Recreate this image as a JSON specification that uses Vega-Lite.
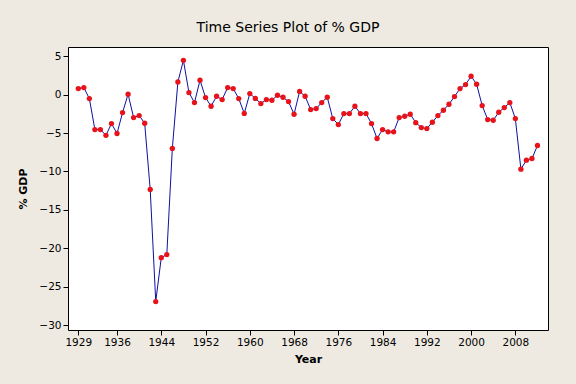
{
  "$schema": "https://vega.github.io/schema/vega-lite/v6.json",
  "width": 480,
  "height": 283,
  "autosize": {"type": "none"},
  "padding": {"left": 68, "top": 47, "right": 28, "bottom": 54},
  "background": "#EEEAE2",
  "title": {
    "text": "Time Series Plot of % GDP",
    "anchor": "middle",
    "font": "DejaVu Sans",
    "fontSize": 14,
    "fontWeight": "normal",
    "color": "#000000",
    "baseline": "alphabetic",
    "offset": 14,
    "dx": -20,
    "dy": 13
  },
  "config": {
    "view": {"stroke": "#000000", "strokeWidth": 1, "fill": "#FFFFFF"},
    "axis": {
      "labelFont": "DejaVu Sans",
      "labelFontSize": 10.5,
      "labelColor": "#000000",
      "titleFont": "DejaVu Sans",
      "titleFontSize": 11,
      "titleFontWeight": "bold",
      "titleColor": "#000000",
      "tickColor": "#000000",
      "tickSize": 5,
      "labelPadding": 2,
      "domainColor": "#000000",
      "grid": false
    }
  },
  "data": {
    "values": [
      {"year": 1929, "gdp": 0.78}, {"year": 1930, "gdp": 0.91}, {"year": 1931, "gdp": -0.52},
      {"year": 1932, "gdp": -4.55}, {"year": 1933, "gdp": -4.55}, {"year": 1934, "gdp": -5.3},
      {"year": 1935, "gdp": -3.77}, {"year": 1936, "gdp": -5.06}, {"year": 1937, "gdp": -2.34},
      {"year": 1938, "gdp": 0.04}, {"year": 1939, "gdp": -2.99}, {"year": 1940, "gdp": -2.73},
      {"year": 1941, "gdp": -3.73}, {"year": 1942, "gdp": -12.34}, {"year": 1943, "gdp": -26.9},
      {"year": 1944, "gdp": -21.2}, {"year": 1945, "gdp": -20.8}, {"year": 1946, "gdp": -7.0},
      {"year": 1947, "gdp": 1.64}, {"year": 1948, "gdp": 4.45}, {"year": 1949, "gdp": 0.26},
      {"year": 1950, "gdp": -1.04}, {"year": 1951, "gdp": 1.86}, {"year": 1952, "gdp": -0.39},
      {"year": 1953, "gdp": -1.52}, {"year": 1954, "gdp": -0.22}, {"year": 1955, "gdp": -0.65},
      {"year": 1956, "gdp": 0.91}, {"year": 1957, "gdp": 0.78}, {"year": 1958, "gdp": -0.52},
      {"year": 1959, "gdp": -2.45}, {"year": 1960, "gdp": 0.13}, {"year": 1961, "gdp": -0.5},
      {"year": 1962, "gdp": -1.17}, {"year": 1963, "gdp": -0.65}, {"year": 1964, "gdp": -0.74},
      {"year": 1965, "gdp": -0.09}, {"year": 1966, "gdp": -0.35}, {"year": 1967, "gdp": -0.91},
      {"year": 1968, "gdp": -2.56}, {"year": 1969, "gdp": 0.4}, {"year": 1970, "gdp": -0.22},
      {"year": 1971, "gdp": -1.95}, {"year": 1972, "gdp": -1.82}, {"year": 1973, "gdp": -1.04},
      {"year": 1974, "gdp": -0.35}, {"year": 1975, "gdp": -3.12}, {"year": 1976, "gdp": -3.9},
      {"year": 1977, "gdp": -2.47}, {"year": 1978, "gdp": -2.47}, {"year": 1979, "gdp": -1.52},
      {"year": 1980, "gdp": -2.47}, {"year": 1981, "gdp": -2.47}, {"year": 1982, "gdp": -3.77},
      {"year": 1983, "gdp": -5.71}, {"year": 1984, "gdp": -4.55}, {"year": 1985, "gdp": -4.85},
      {"year": 1986, "gdp": -4.85}, {"year": 1987, "gdp": -2.99}, {"year": 1988, "gdp": -2.82},
      {"year": 1989, "gdp": -2.56}, {"year": 1990, "gdp": -3.65}, {"year": 1991, "gdp": -4.29},
      {"year": 1992, "gdp": -4.42}, {"year": 1993, "gdp": -3.6}, {"year": 1994, "gdp": -2.73},
      {"year": 1995, "gdp": -2.04}, {"year": 1996, "gdp": -1.26}, {"year": 1997, "gdp": -0.26},
      {"year": 1998, "gdp": 0.78}, {"year": 1999, "gdp": 1.3}, {"year": 2000, "gdp": 2.38},
      {"year": 2001, "gdp": 1.34}, {"year": 2002, "gdp": -1.43}, {"year": 2003, "gdp": -3.25},
      {"year": 2004, "gdp": -3.34}, {"year": 2005, "gdp": -2.3}, {"year": 2006, "gdp": -1.69},
      {"year": 2007, "gdp": -1.04}, {"year": 2008, "gdp": -3.12}, {"year": 2009, "gdp": -9.7},
      {"year": 2010, "gdp": -8.53}, {"year": 2011, "gdp": -8.31}, {"year": 2012, "gdp": -6.62}
    ]
  },
  "encoding": {
    "x": {
      "field": "year",
      "type": "quantitative",
      "scale": {"domain": [1927.14, 2013.9], "nice": false, "zero": false},
      "axis": {
        "title": "Year",
        "values": [1929, 1936, 1944, 1952, 1960, 1968, 1976, 1984, 1992, 2000, 2008],
        "format": "d",
        "titleY": 29,
        "titleBaseline": "middle",
        "domain": false
      }
    },
    "y": {
      "field": "gdp",
      "type": "quantitative",
      "scale": {"domain": [-30.6, 6.18], "nice": false, "zero": false},
      "axis": {
        "title": "% GDP",
        "values": [-30, -25, -20, -15, -10, -5, 0, 5],
        "titleX": -45,
        "titleY": 141.5,
        "titleAngle": 270,
        "titleAlign": "center",
        "titleBaseline": "middle",
        "domain": false
      }
    }
  },
  "layer": [
    {"mark": {"type": "line", "color": "#1010A0", "strokeWidth": 1}},
    {"mark": {"type": "circle", "color": "#E8121A", "opacity": 1, "size": 28}}
  ]
}
